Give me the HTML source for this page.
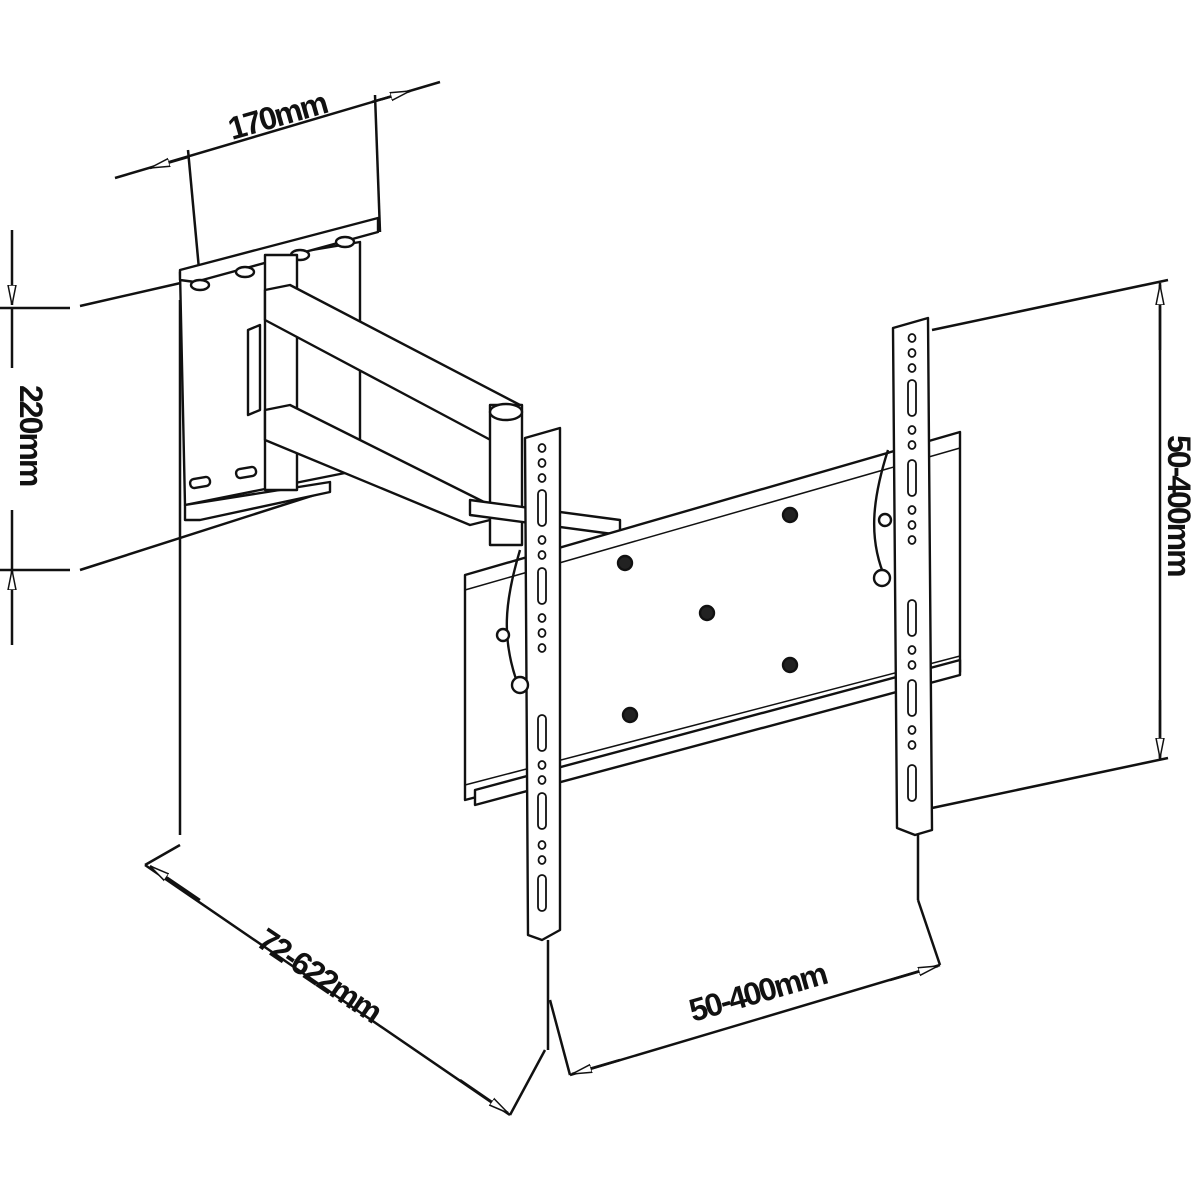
<!DOCTYPE html>
<html><head><meta charset="utf-8"><style>
html,body{margin:0;padding:0;background:#fff;}
svg{display:block}
text{font-family:"Liberation Sans",sans-serif;font-weight:bold;font-size:32px;fill:#111;letter-spacing:-2px}
</style></head><body>
<svg width="1200" height="1200" viewBox="0 0 1200 1200" xmlns="http://www.w3.org/2000/svg">
<defs>
<marker id="a" viewBox="0 0 20 10" refX="20" refY="5" markerWidth="20" markerHeight="10" orient="auto-start-reverse" markerUnits="userSpaceOnUse">
<path d="M0,1 L20,5 L0,9 Z" fill="#fff" stroke="#111" stroke-width="1.5"/></marker>
</defs>
<g stroke="#111" stroke-width="2.5" fill="none" stroke-linejoin="round">
<line x1="115" y1="178" x2="440" y2="82"/>
<line x1="150" y1="168" x2="188" y2="157" marker-start="url(#a)"/>
<line x1="372" y1="102" x2="410" y2="91" marker-end="url(#a)"/>
<line x1="188" y1="150" x2="200" y2="280"/>
<line x1="375" y1="95" x2="380" y2="232"/>
<line x1="12" y1="230" x2="12" y2="305" marker-end="url(#a)"/>
<line x1="12" y1="645" x2="12" y2="570" marker-end="url(#a)"/>
<line x1="12" y1="308" x2="12" y2="368"/>
<line x1="12" y1="510" x2="12" y2="570"/>
<line x1="0" y1="308" x2="70" y2="308"/>
<line x1="0" y1="570" x2="70" y2="570"/>
<line x1="80" y1="306" x2="185" y2="282"/>
<line x1="80" y1="570" x2="330" y2="490"/>
<line x1="1160" y1="283" x2="1160" y2="760"/>
<line x1="1160" y1="350" x2="1160" y2="285" marker-end="url(#a)"/>
<line x1="1160" y1="700" x2="1160" y2="758" marker-end="url(#a)"/>
<line x1="932" y1="330" x2="1168" y2="280"/>
<line x1="932" y1="808" x2="1168" y2="758"/>
<line x1="145" y1="865" x2="510" y2="1115"/>
<line x1="200" y1="900" x2="150" y2="866" marker-end="url(#a)"/>
<line x1="460" y1="1080" x2="508" y2="1113" marker-end="url(#a)"/>
<line x1="180" y1="300" x2="180" y2="835"/>
<line x1="545" y1="1050" x2="510" y2="1115"/>
<line x1="180" y1="845" x2="145" y2="865"/>
<line x1="570" y1="1075" x2="940" y2="965"/>
<line x1="620" y1="1060" x2="572" y2="1074" marker-end="url(#a)"/>
<line x1="890" y1="980" x2="938" y2="966" marker-end="url(#a)"/>
<line x1="548" y1="940" x2="548" y2="1050"/>
<line x1="550" y1="1000" x2="570" y2="1075"/>
<line x1="918" y1="830" x2="918" y2="900"/>
<line x1="918" y1="900" x2="940" y2="965"/>
</g>
<text x="0" y="0" transform="translate(232,140) rotate(-16)">170mm</text>
<text x="0" y="0" transform="translate(20,385) rotate(90)">220mm</text>
<text x="0" y="0" transform="translate(1168,435) rotate(90)">50-400mm</text>
<text x="0" y="0" transform="translate(255,945) rotate(34)">72-622mm</text>
<text x="0" y="0" transform="translate(693,1022) rotate(-16)">50-400mm</text>

<g stroke="#111" stroke-width="2.4" fill="#fff" stroke-linejoin="round">
<polygon points="180,272 360,242 360,470 185,505"/>
<polygon points="185,505 330,482 330,492 200,520 185,520"/>
<polygon points="180,270 378,218 378,232 195,282 180,280"/>
<ellipse cx="200" cy="285" rx="9" ry="5"/>
<ellipse cx="245" cy="272" rx="9" ry="5"/>
<ellipse cx="300" cy="255" rx="9" ry="5"/>
<ellipse cx="345" cy="242" rx="9" ry="5"/>
<rect x="190" y="478" width="20" height="9" rx="4" transform="rotate(-10 200 482)"/>
<rect x="236" y="468" width="20" height="9" rx="4" transform="rotate(-10 246 472)"/>
<rect x="265" y="255" width="32" height="235"/>
<polygon points="265,290 290,285 520,405 520,445 500,445 265,320"/>
<polygon points="265,410 290,405 490,505 490,520 470,525 265,440"/>
<polygon points="248,330 260,325 260,410 248,415"/>
<rect x="490" y="405" width="32" height="140"/>
<ellipse cx="506" cy="412" rx="16" ry="8"/>
<polygon points="470,500 620,520 620,535 470,515"/>
<polygon points="465,575 960,432 960,672 465,800"/>
<line x1="465" y1="590" x2="960" y2="448" stroke-width="1.5"/>
<line x1="465" y1="785" x2="960" y2="656" stroke-width="1.5"/>
<polygon points="475,790 960,660 960,675 475,805"/>
<circle cx="790" cy="515" r="7" fill="#222"/>
<circle cx="625" cy="563" r="7" fill="#222"/>
<circle cx="707" cy="613" r="7" fill="#222"/>
<circle cx="790" cy="665" r="7" fill="#222"/>
<circle cx="630" cy="715" r="7" fill="#222"/>
<polygon points="525,438 560,428 560,930 542,940 528,935"/>
<path d="M520,550 C505,600 500,640 520,690" fill="none"/>
<circle cx="520" cy="685" r="8"/>
<circle cx="503" cy="635" r="6"/>
<polygon points="893,328 928,318 932,830 915,835 897,828"/>
<path d="M888,450 C872,500 868,540 886,580" fill="none"/>
<circle cx="882" cy="578" r="8"/>
<circle cx="885" cy="520" r="6"/>
</g>
<g fill="#fff" stroke="#111" stroke-width="1.8">
<ellipse cx="542" cy="448" rx="3.5" ry="4"/><ellipse cx="542" cy="463" rx="3.5" ry="4"/><ellipse cx="542" cy="478" rx="3.5" ry="4"/>
<rect x="538" y="490" width="8" height="36" rx="4"/>
<ellipse cx="542" cy="540" rx="3.5" ry="4"/><ellipse cx="542" cy="555" rx="3.5" ry="4"/>
<rect x="538" y="568" width="8" height="36" rx="4"/>
<ellipse cx="542" cy="618" rx="3.5" ry="4"/><ellipse cx="542" cy="633" rx="3.5" ry="4"/><ellipse cx="542" cy="648" rx="3.5" ry="4"/>
<rect x="538" y="715" width="8" height="36" rx="4"/>
<ellipse cx="542" cy="765" rx="3.5" ry="4"/><ellipse cx="542" cy="780" rx="3.5" ry="4"/>
<rect x="538" y="793" width="8" height="36" rx="4"/>
<ellipse cx="542" cy="845" rx="3.5" ry="4"/><ellipse cx="542" cy="860" rx="3.5" ry="4"/>
<rect x="538" y="875" width="8" height="36" rx="4"/>
<ellipse cx="912" cy="338" rx="3.5" ry="4"/><ellipse cx="912" cy="353" rx="3.5" ry="4"/><ellipse cx="912" cy="368" rx="3.5" ry="4"/>
<rect x="908" y="380" width="8" height="36" rx="4"/>
<ellipse cx="912" cy="430" rx="3.5" ry="4"/><ellipse cx="912" cy="445" rx="3.5" ry="4"/>
<rect x="908" y="460" width="8" height="36" rx="4"/>
<ellipse cx="912" cy="510" rx="3.5" ry="4"/><ellipse cx="912" cy="525" rx="3.5" ry="4"/><ellipse cx="912" cy="540" rx="3.5" ry="4"/>
<rect x="908" y="600" width="8" height="36" rx="4"/>
<ellipse cx="912" cy="650" rx="3.5" ry="4"/><ellipse cx="912" cy="665" rx="3.5" ry="4"/>
<rect x="908" y="680" width="8" height="36" rx="4"/>
<ellipse cx="912" cy="730" rx="3.5" ry="4"/><ellipse cx="912" cy="745" rx="3.5" ry="4"/>
<rect x="908" y="765" width="8" height="36" rx="4"/>
</g>
</svg>
</body></html>
